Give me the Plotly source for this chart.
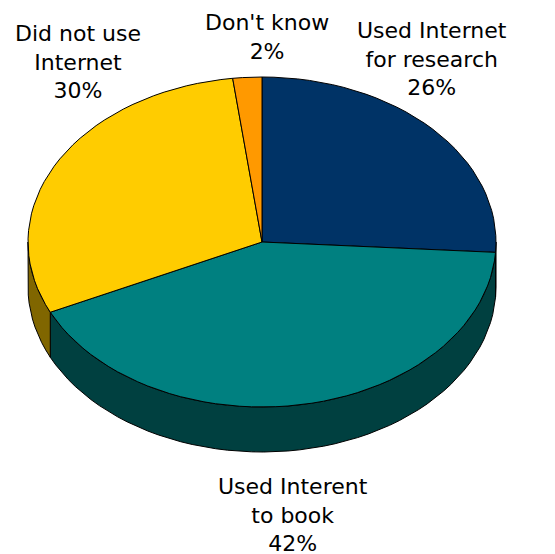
import numpy as np
import plotly.graph_objects as go

# ---- data ----
labels = ["Used Internet<br>for research", "Used Interent<br>to book", "Did not use<br>Internet", "Don't know"]
values = [26, 42, 30, 2]
top_colors = ["#003366", "#008080", "#FFCC00", "#FF9900"]
side_colors = ["#001A33", "#004040", "#806600", "#804C00"]

# ---- geometry (pixel-like coordinate frame) ----
W, H = 555, 554
OFF = 8  # page body margin compensation
cx, cy = 262, 242
rx, ry = 234, 165
depth = 45
label_pos = [(432, 59), (293, 515), (78, 62), (267, 37)]


def arc(a, b, dy=0.0, n=120):
    t = np.radians(np.linspace(a, b, max(2, int(n * (b - a) / 360) + 2)))
    return cx + rx * np.sin(t), cy - ry * np.cos(t) + dy


total = sum(values)
bounds = np.concatenate([[0], np.cumsum(values)]) / total * 360.0

fig = go.Figure()

# side walls (front half visible: 90..270 deg clockwise from top)
for i in range(len(values)):
    s, e = bounds[i], bounds[i + 1]
    a, b = max(s, 90), min(e, 270)
    if b <= a:
        continue
    x1, y1 = arc(a, b)
    x2, y2 = arc(a, b, depth)
    xs = np.concatenate([x1, x2[::-1], x1[:1]])
    ys = np.concatenate([y1, y2[::-1], y1[:1]])
    fig.add_trace(go.Scatter(x=xs, y=ys, mode="lines", fill="toself",
                             fillcolor=side_colors[i],
                             line=dict(color="black", width=1),
                             hoverinfo="skip", showlegend=False))

# top faces
for i in range(len(values)):
    s, e = bounds[i], bounds[i + 1]
    x1, y1 = arc(s, e)
    xs = np.concatenate([[cx], x1, [cx]])
    ys = np.concatenate([[cy], y1, [cy]])
    fig.add_trace(go.Scatter(x=xs, y=ys, mode="lines", fill="toself",
                             fillcolor=top_colors[i],
                             line=dict(color="black", width=1),
                             hoverinfo="skip", showlegend=False))

# labels
for i, lab in enumerate(labels):
    pct = round(values[i] / total * 100)
    fig.add_annotation(x=label_pos[i][0], y=label_pos[i][1],
                       text=f"{lab}<br>{pct}%", showarrow=False,
                       font=dict(family="DejaVu Sans", size=22, color="black"),
                       xanchor="center", yanchor="middle", align="center")

fig.update_layout(
    width=W, height=H,
    margin=dict(l=0, r=0, t=0, b=0),
    paper_bgcolor="white", plot_bgcolor="white",
    xaxis=dict(range=[OFF, W + OFF], visible=False, fixedrange=True),
    yaxis=dict(range=[H + OFF, OFF], visible=False, fixedrange=True),
)

fig.write_html("out.html")
